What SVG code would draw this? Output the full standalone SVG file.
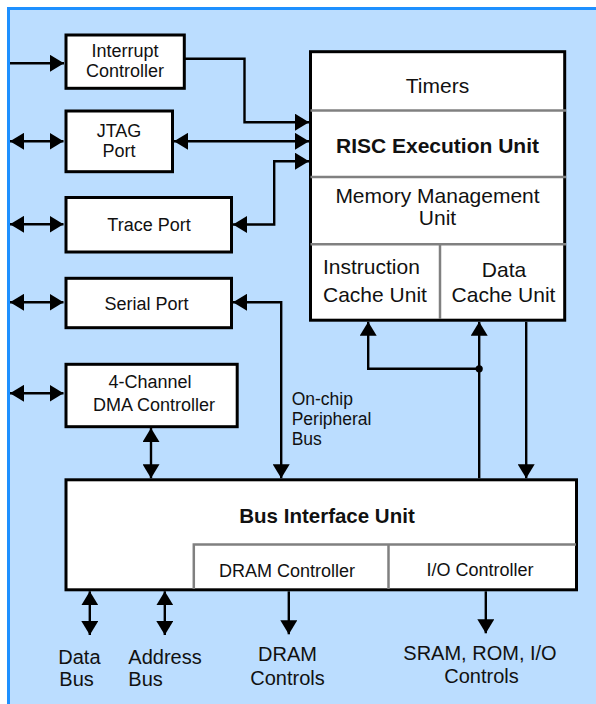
<svg xmlns="http://www.w3.org/2000/svg" width="596" height="704" viewBox="0 0 596 704">
<style>
text{font-family:"Liberation Sans",Arial,sans-serif;fill:#111}
.s{font-size:18px;text-anchor:middle}
.b{font-size:21px;text-anchor:middle}
.l{font-size:20px}
.box{fill:#fff;stroke:#000;stroke-width:3}
.sep{stroke:#808080;stroke-width:2.5;fill:none}
.c{fill:none;stroke:#000;stroke-width:2.4}
</style>
<defs>
<marker id="ah" markerUnits="userSpaceOnUse" markerWidth="14" markerHeight="17" refX="14" refY="8.5" orient="auto-start-reverse" viewBox="0 0 14 17">
<path d="M0,0 L14,8.5 L0,17 z" fill="#000"/>
</marker>
</defs>
<rect x="8.5" y="8.5" width="600" height="710" fill="#BBDDFF" stroke="#1E90FF" stroke-width="3"/>

<g id="connectors">
<line class="c" x1="10" y1="63.3" x2="64" y2="63.3" marker-end="url(#ah)"/>
<polyline class="c" points="181,58.8 244.5,58.8 244.5,122.2 309,122.2" marker-end="url(#ah)"/>
<line class="c" x1="174" y1="141.3" x2="309" y2="141.3" marker-start="url(#ah)" marker-end="url(#ah)"/>
<polyline class="c" points="233,224.5 274.2,224.5 274.2,161.2 309,161.2" marker-start="url(#ah)" marker-end="url(#ah)"/>
<line class="c" x1="10" y1="141.3" x2="63.5" y2="141.3" marker-start="url(#ah)" marker-end="url(#ah)"/>
<line class="c" x1="10" y1="224.3" x2="63.5" y2="224.3" marker-start="url(#ah)" marker-end="url(#ah)"/>
<line class="c" x1="10" y1="302.3" x2="63.5" y2="302.3" marker-start="url(#ah)" marker-end="url(#ah)"/>
<line class="c" x1="10" y1="393.3" x2="63.5" y2="393.3" marker-start="url(#ah)" marker-end="url(#ah)"/>
<polyline class="c" points="233,302.3 281.2,302.3 281.2,478.3" marker-start="url(#ah)" marker-end="url(#ah)"/>
<line class="c" x1="151" y1="428" x2="151" y2="478.3" marker-start="url(#ah)" marker-end="url(#ah)"/>
<polyline class="c" points="479.2,368.8 368.2,368.8 368.2,321.8" marker-end="url(#ah)"/>
<line class="c" x1="479.2" y1="478.3" x2="479.2" y2="321.8" marker-end="url(#ah)"/>
<circle cx="479.2" cy="368.8" r="3.6" fill="#000"/>
<line class="c" x1="526.2" y1="321.8" x2="526.2" y2="478.3" marker-end="url(#ah)"/>
<line class="c" x1="89.8" y1="591.3" x2="89.8" y2="635" marker-start="url(#ah)" marker-end="url(#ah)"/>
<line class="c" x1="164.8" y1="591.3" x2="164.8" y2="635" marker-start="url(#ah)" marker-end="url(#ah)"/>
<line class="c" x1="288.8" y1="591.3" x2="288.8" y2="634.3" marker-end="url(#ah)"/>
<line class="c" x1="485.8" y1="591.3" x2="485.8" y2="633.3" marker-end="url(#ah)"/>
</g>

<g id="interrupt">
<rect class="box" x="66" y="35" width="118.3" height="53.3"/>
<text class="s" x="125" y="56.7">Interrupt</text>
<text class="s" x="125" y="76.7">Controller</text>
</g>
<g id="jtag">
<rect class="box" x="66" y="111" width="106.5" height="60.7"/>
<text class="s" x="119" y="137.3">JTAG</text>
<text class="s" x="119" y="156.7">Port</text>
</g>
<g id="trace">
<rect class="box" x="66" y="197.5" width="165.5" height="54.5"/>
<text class="s" x="149" y="231">Trace Port</text>
</g>
<g id="serial">
<rect class="box" x="66" y="278.3" width="165.5" height="49.4"/>
<text class="s" x="146.5" y="310">Serial Port</text>
</g>
<g id="dma">
<rect class="box" x="66" y="364.3" width="171.2" height="62.4"/>
<text class="s" x="150" y="388.3">4-Channel</text>
<text class="s" x="154" y="410.7">DMA Controller</text>
</g>

<g id="cpu">
<rect class="box" x="310.5" y="51.7" width="254.2" height="268.5"/>
<line class="sep" x1="310.5" y1="110.5" x2="566" y2="110.5"/>
<line class="sep" x1="310.5" y1="177" x2="566" y2="177"/>
<line class="sep" x1="310.5" y1="244.3" x2="566" y2="244.3"/>
<line class="sep" x1="440" y1="244.3" x2="440" y2="319"/>
<text class="b" x="437.5" y="93.3">Timers</text>
<text class="b" x="437.5" y="153.3" font-weight="bold">RISC Execution Unit</text>
<text class="b" x="437.5" y="203.3">Memory Management</text>
<text class="b" x="437.5" y="225">Unit</text>
<text x="323" y="274.3" font-size="21">Instruction</text>
<text x="323" y="301.7" font-size="21">Cache Unit</text>
<text class="b" x="504" y="276.7">Data</text>
<text class="b" x="503.5" y="301.7">Cache Unit</text>
</g>

<g id="biu">
<rect class="box" x="66" y="479.8" width="510.5" height="110"/>
<polyline class="sep" points="193.8,589 193.8,544.5 576,544.5"/>
<line class="sep" x1="388.5" y1="544.5" x2="388.5" y2="589"/>
<text x="327" y="523.3" font-size="20.5" font-weight="bold" text-anchor="middle">Bus Interface Unit</text>
<text class="s" x="287" y="577.3">DRAM Controller</text>
<text class="s" x="480" y="576">I/O Controller</text>
</g>

<g id="labels">
<text x="291.7" y="405" font-size="17.5">On-chip</text>
<text x="291.7" y="425" font-size="17.5">Peripheral</text>
<text x="291.7" y="444.5" font-size="17.5">Bus</text>
<text class="l" x="58.3" y="664.3">Data</text>
<text class="l" x="59.3" y="686">Bus</text>
<text class="l" x="128.3" y="664.3">Address</text>
<text class="l" x="128.3" y="686">Bus</text>
<text class="l" x="287.5" y="661" text-anchor="middle">DRAM</text>
<text class="l" x="287.5" y="685" text-anchor="middle">Controls</text>
<text class="l" x="480" y="660" text-anchor="middle">SRAM, ROM, I/O</text>
<text class="l" x="481.5" y="683" text-anchor="middle">Controls</text>
</g>
</svg>
